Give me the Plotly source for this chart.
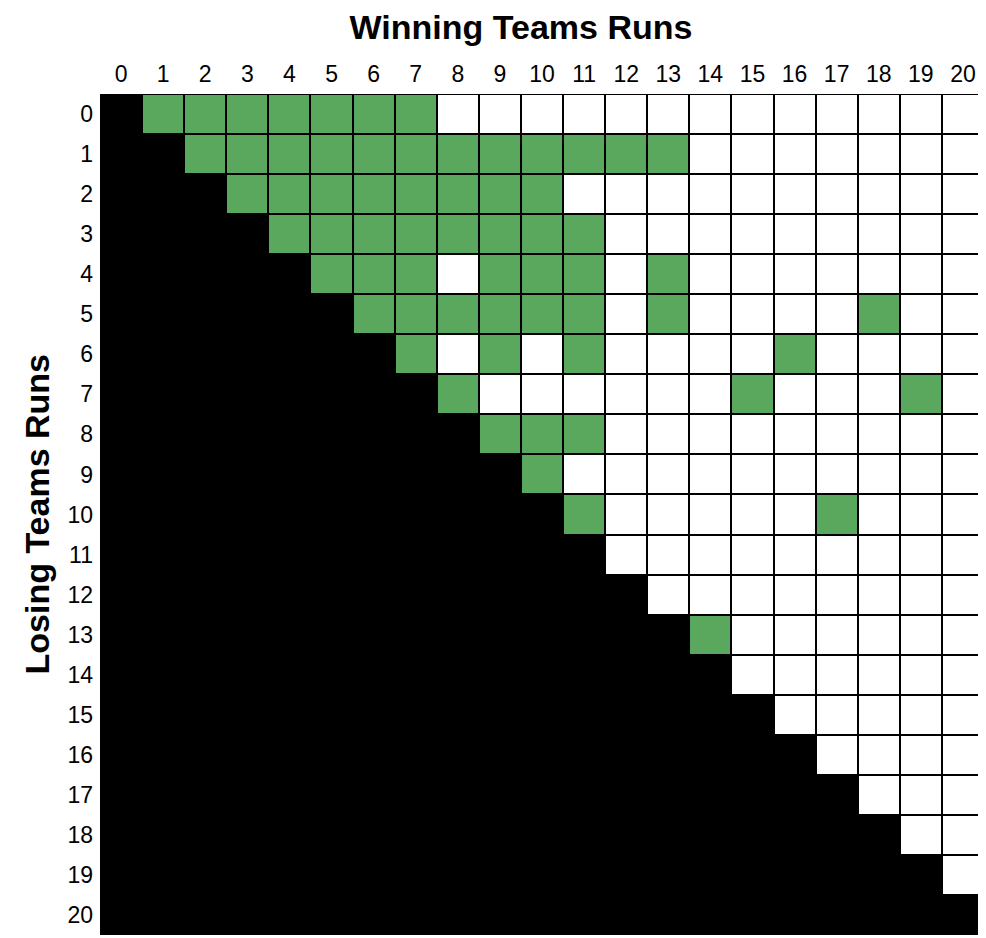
import plotly.graph_objects as go

runs = list(range(21))
tick_labels = [str(r) for r in runs]

# Green (scores that occurred): losing runs -> list of winning runs
occurred = {
    0: [1, 2, 3, 4, 5, 6, 7],
    1: [2, 3, 4, 5, 6, 7, 8, 9, 10, 11, 12, 13],
    2: [3, 4, 5, 6, 7, 8, 9, 10],
    3: [4, 5, 6, 7, 8, 9, 10, 11],
    4: [5, 6, 7, 9, 10, 11, 13],
    5: [6, 7, 8, 9, 10, 11, 13, 18],
    6: [7, 9, 11, 16],
    7: [8, 15, 19],
    8: [9, 10, 11],
    9: [10],
    10: [11, 17],
    13: [14],
}

z = []
for lose in runs:
    row = []
    for win in runs:
        if win <= lose:
            row.append(2)
        elif win in occurred.get(lose, []):
            row.append(1)
        else:
            row.append(0)
    z.append(row)

colorscale = [
    [0.0, "#ffffff"], [0.333, "#ffffff"],
    [0.333, "#5aa75e"], [0.666, "#5aa75e"],
    [0.666, "#000000"], [1.0, "#000000"],
]

fig = go.Figure(go.Heatmap(
    z=z, x=runs, y=runs, zmin=0, zmax=2,
    colorscale=colorscale, showscale=False,
    xgap=2, ygap=2, hoverinfo="skip",
))

# page body has an 8px default margin, so the figure is 978x930
W, H = 978, 930
font = "Liberation Sans, Arial, sans-serif"
fig.update_layout(
    width=W, height=H,
    margin=dict(l=92, r=2, t=86, b=3),
    paper_bgcolor="white", plot_bgcolor="black",
    font=dict(family=font, color="black", size=23),
    title=dict(text="<b>Winning Teams Runs</b>", x=513 / W, xanchor="center",
               xref="container", y=1 - 19 / H, yanchor="middle",
               font=dict(size=34, family=font)),
    annotations=[dict(text="<b>Losing Teams Runs</b>", textangle=-90,
                      xref="paper", yref="paper", x=0, y=0.5,
                      xanchor="center", yanchor="middle", xshift=-64,
                      showarrow=False, font=dict(size=34, family=font))],
)
fig.update_xaxes(side="top", tickmode="array", tickvals=runs, ticktext=tick_labels,
                 range=[-0.5, 20.5], showgrid=False, zeroline=False, ticks="",
                 ticklabelstandoff=6, automargin=False, tickfont=dict(size=23))
fig.update_yaxes(autorange=False, range=[20.5, -0.5], tickmode="array", tickvals=runs,
                 ticktext=tick_labels, showgrid=False, zeroline=False, ticks="",
                 ticklabelstandoff=6, automargin=False, tickfont=dict(size=23))
fig.write_html("out.html")
